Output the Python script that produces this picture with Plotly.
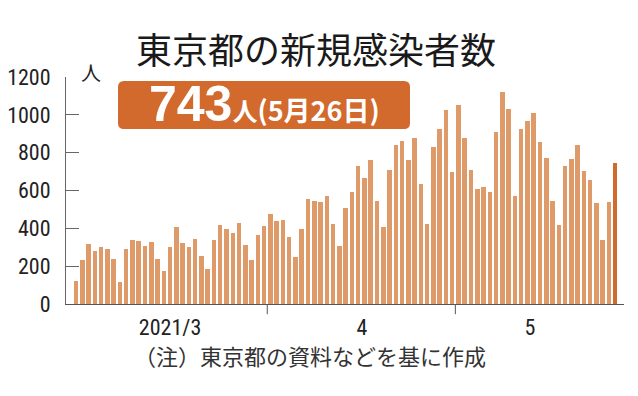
import plotly.graph_objects as go

dates = (
    [f"3/{d}" for d in range(1, 32)]
    + [f"4/{d}" for d in range(1, 31)]
    + [f"5/{d}" for d in range(1, 27)]
)
cases = [
    121, 232, 316, 279, 301, 293, 237, 116, 290, 340, 335, 304, 330, 239, 175, 300,
    409, 323, 303, 342, 256, 187, 337, 420, 394, 376, 430, 313, 234, 364, 414,
    475, 440, 446, 355, 249, 399, 555, 545, 537, 570, 421, 306, 510, 591, 729,
    667, 759, 543, 405, 711, 843, 861, 759, 876, 635, 425, 828, 925, 1027, 698,
    1050, 879, 708, 609, 621, 591, 907, 1121, 1032, 573, 925, 969, 1010, 854,
    772, 542, 419, 732, 766, 843, 705, 654, 535, 340, 538, 743,
]
month_labels = ["2021/3", "4", "5"]
month_label_pos = [15, 45.6, 72.4]
month_bounds = [30.5, 60.5]
y_ticks = [0, 200, 400, 600, 800, 1000, 1200]

LIGHT = "#de9a68"
DARK = "#d2692d"
NARROW = "Liberation Sans Narrow, Arial Narrow, Roboto Condensed, Liberation Sans, sans-serif"
JP = "Noto Sans CJK JP, sans-serif"

idx = list(range(len(cases)))
colors = [LIGHT] * (len(cases) - 1) + [DARK]

fig = go.Figure(
    go.Bar(x=idx, y=cases, marker=dict(color=colors, line=dict(width=0)),
           width=0.72, customdata=dates, hovertemplate="%{customdata}: %{y}<extra></extra>")
)

shapes = []
for b in month_bounds:
    shapes.append(dict(type="line", xref="x", yref="paper", x0=b, x1=b, y0=0, y1=-0.045,
                       line=dict(color="#555555", width=1)))

# rounded highlight box (pixel -> paper)
L, T, W, H = 66, 77, 558, 227
def px(x):
    return (x - L) / W
def py(y):
    return (T + H - y) / H
x0, x1, y0, y1 = px(118), px(410), py(129), py(81)
rx, ry = 6 / W, 6 / H
path = (f"M {x0+rx},{y1} L {x1-rx},{y1} Q {x1},{y1} {x1},{y1-ry} "
        f"L {x1},{y0+ry} Q {x1},{y0} {x1-rx},{y0} L {x0+rx},{y0} "
        f"Q {x0},{y0} {x0},{y0+ry} L {x0},{y1-ry} Q {x0},{y1} {x0+rx},{y1} Z")
shapes.append(dict(type="path", xref="paper", yref="paper", path=path,
                   fillcolor=DARK, line=dict(width=0), layer="below"))

def note(text, x, y, size, color, family=JP, weight="normal"):
    return dict(text=text, xref="paper", yref="paper", x=px(x), y=py(y),
                xanchor="center", yanchor="middle", showarrow=False,
                font=dict(family=family, size=size, color=color, weight=weight))

annotations = [
    note("東京都の新規感染者数", 316, 48, 36, "#1a1a1a"),
    note("<b><span style='font-family:Liberation Sans,Arial,sans-serif;font-size:50px'>743</span>"
         "<span style='font-size:25px'>人</span>"
         "<span style='font-size:27px'>(5月26日)</span></b>", 264, 104, 27, "white"),
    note("人", 91, 72, 20, "#222222"),
    note("（注）東京都の資料などを基に作成", 310, 355, 22, "#333333"),
]

fig.update_layout(
    width=638, height=396,
    margin=dict(l=L, r=638 - L - W, t=T, b=396 - T - H, autoexpand=False),
    paper_bgcolor="white", plot_bgcolor="rgba(0,0,0,0)",
    showlegend=False, bargap=0,
    shapes=shapes, annotations=annotations,
    xaxis=dict(range=[-1.6, 87.4], tickvals=month_label_pos, ticktext=month_labels,
               ticks="", showgrid=False, zeroline=False, showline=True, automargin=False,
               linecolor="#555555", linewidth=1, ticklabelstandoff=4,
               tickfont=dict(family=NARROW, size=22, color="#222222")),
    yaxis=dict(range=[0, 1200], tickvals=y_ticks, ticks="inside", ticklen=13,
               tickcolor="#666666", showgrid=False, zeroline=False, showline=True,
               automargin=False,
               linecolor="#666666", linewidth=1, ticklabelstandoff=10,
               tickfont=dict(family=NARROW, size=22, color="#222222")),
)

fig.write_html("out.html", config={"displayModeBar": False},
               post_script="document.body.style.margin='0';document.body.style.padding='0';")
